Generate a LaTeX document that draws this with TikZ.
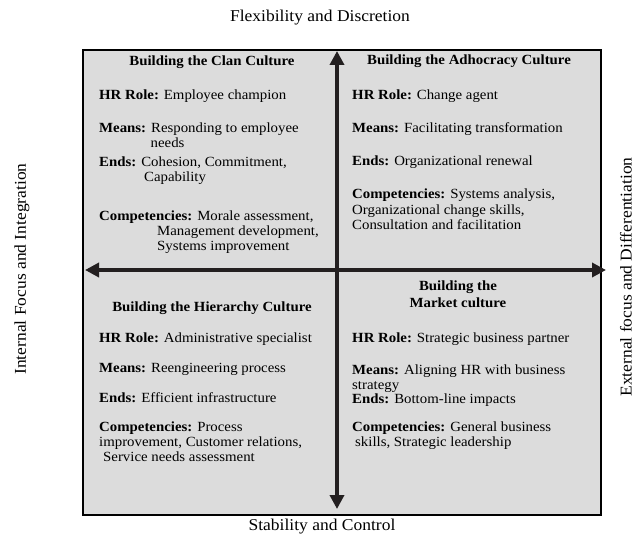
\documentclass[tikz,border=0pt]{standalone}
\usepackage{fontspec}
\setmainfont{Liberation Serif}[FakeStretch=1.06]
\usetikzlibrary{arrows.meta}
\definecolor{quadfill}{RGB}{220,220,220}
\definecolor{axisink}{RGB}{35,31,32}
\begin{document}
\begin{tikzpicture}[x=1pt,y=-1pt,
  txt/.style={anchor=base west,inner sep=0pt,font=\fontsize{14}{15}\selectfont},
  head/.style={anchor=base,inner sep=0pt,font=\fontsize{14}{15}\selectfont\bfseries},
  axislab/.style={inner sep=0pt,font=\fontsize{16.5}{18}\selectfont},
  axisline/.style={draw=axisink,line width=3.5pt,{Triangle[length=14pt,width=14pt]}-{Triangle[length=14pt,width=14pt]}}
]
\useasboundingbox (0,0) rectangle (634,535);
% frame
\draw[fill=quadfill,line width=1.8pt] (83,50) rectangle (601,515);
% axes
\coordinate (W) at (85,270);
\coordinate (E) at (606,270);
\coordinate (N) at (337,51);
\coordinate (S) at (337,509);
\draw[axisline] (W) -- (E);
\draw[axisline] (S) -- (N);
% axis labels
\node[axislab] (toplab) at (320,18) {Flexibility and Discretion};
\node[axislab,anchor=base] (botlab) at (322,530) {Stability and Control};
\node[axislab,rotate=90] (leftlab) at (22,269) {Internal Focus and Integration};
\node[axislab,rotate=90] (rightlab) at (626,277) {External focus and Differentiation};
% top left: clan
\node[head] (tlh) at (212,65.5) {Building the Clan Culture};
\node[txt] (tl1) at (99,99.5) {\textbf{HR Role:} Employee champion};
\node[txt] (tl2) at (99,132.5) {\textbf{Means:} Responding to employee};
\node[txt] (tl2b) at (150.5,147.5) {needs};
\node[txt] (tl3) at (99,166) {\textbf{Ends:} Cohesion, Commitment,};
\node[txt] (tl3b) at (144,181) {Capability};
\node[txt] (tl4) at (99,220) {\textbf{Competencies:} Morale assessment,};
\node[txt] (tl4b) at (157,235) {Management development,};
\node[txt] (tl4c) at (157,250) {Systems improvement};
% top right: adhocracy
\node[head] (trh) at (469,64.5) {Building the Adhocracy Culture};
\node[txt] (tr1) at (352,99.5) {\textbf{HR Role:} Change agent};
\node[txt] (tr2) at (352,132.5) {\textbf{Means:} Facilitating transformation};
\node[txt] (tr3) at (352,165.5) {\textbf{Ends:} Organizational renewal};
\node[txt] (tr4) at (352,198.5) {\textbf{Competencies:} Systems analysis,};
\node[txt] (tr4b) at (352,214) {Organizational change skills,};
\node[txt] (tr4c) at (352,229.5) {Consultation and facilitation};
% bottom left: hierarchy
\node[head] (blh) at (212,311.5) {Building the Hierarchy Culture};
\node[txt] (bl1) at (99,342.5) {\textbf{HR Role:} Administrative specialist};
\node[txt] (bl2) at (99,372.5) {\textbf{Means:} Reengineering process};
\node[txt] (bl3) at (99,402.5) {\textbf{Ends:} Efficient infrastructure};
\node[txt] (bl4) at (99,431.5) {\textbf{Competencies:} Process};
\node[txt] (bl4b) at (99,446.5) {improvement, Customer relations,};
\node[txt] (bl4c) at (103,461.5) {Service needs assessment};
% bottom right: market
\node[head] (brh) at (458,290) {Building the};
\node[head] (brh2) at (458,307) {Market culture};
\node[txt] (br1) at (352,342.5) {\textbf{HR Role:} Strategic business partner};
\node[txt] (br2) at (352,374) {\textbf{Means:} Aligning HR with business};
\node[txt] (br2b) at (352,389) {strategy};
\node[txt] (br3) at (352,403) {\textbf{Ends:} Bottom-line impacts};
\node[txt] (br4) at (352,431.5) {\textbf{Competencies:} General business};
\node[txt] (br4b) at (355,446.5) {skills, Strategic leadership};
\end{tikzpicture}
\end{document}
